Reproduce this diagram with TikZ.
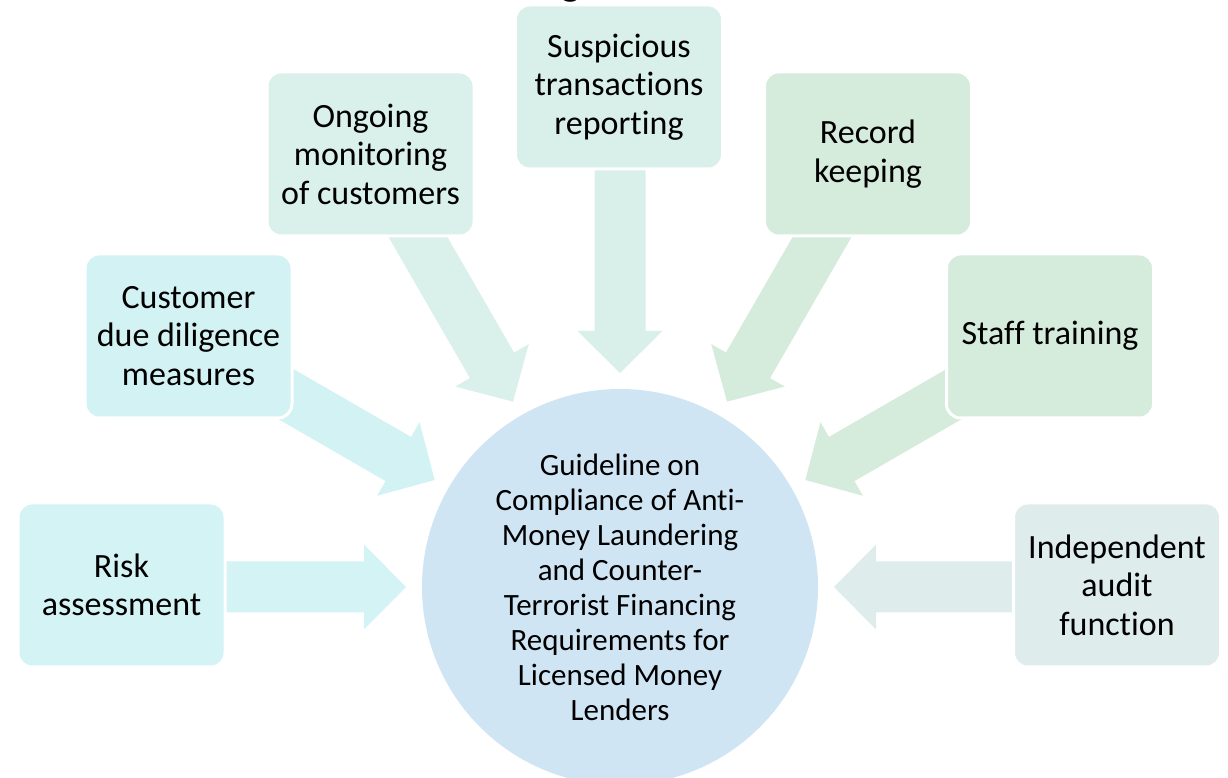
\documentclass[tikz,border=0pt]{standalone}
\usepackage{fontspec}
\setmainfont{Carlito}[RawFeature={-liga;-clig}]
\definecolor{riskc}{RGB}{211,243,245}
\definecolor{cddc}{RGB}{211,242,244}
\definecolor{ongc}{RGB}{218,240,234}
\definecolor{susc}{RGB}{217,239,234}
\definecolor{recc}{RGB}{213,235,220}
\definecolor{stafc}{RGB}{213,235,219}
\definecolor{indc}{RGB}{223,236,236}
\definecolor{hubc}{RGB}{208,229,244}
\begin{document}
\begin{tikzpicture}[x=1pt,y=1pt,
  box/.style={rectangle, rounded corners=14pt, minimum width=207pt,
    minimum height=164pt, draw=white, line width=3pt, align=center,
    inner sep=0pt, font=\fontsize{34}{38.5}\selectfont},
  hub/.style={circle, minimum size=396pt, inner sep=0pt, fill=hubc,
    align=center, font=\fontsize{31}{35}\selectfont},
  blockarrow/.style={fill=#1}]
\useasboundingbox (0,0) rectangle (1228,778);

% centre of the hub
\coordinate (c) at (620,191);

% block arrows pointing at the hub, drawn beneath the boxes
\foreach \ang/\col in {180/riskc,150/cddc,120/ongc,90/susc,60/recc,30/stafc,0/indc}{
  \fill[blockarrow=\col, shift={(c)}, rotate=\ang]
    (214,0) -- (256,42.5) -- (256,25.5) -- (429,25.5) -- (429,-25.5)
    -- (256,-25.5) -- (256,-42.5) -- cycle;
}

% hub
\node[hub] (guide) at (c) {Guideline on\\Compliance of Anti-\\Money Laundering\\and Counter-\\Terrorist Financing\\Requirements for\\Licensed Money\\Lenders};

% surrounding boxes
\node[box, fill=riskc] (risk) at (121.5,193) {Risk\\assessment};
\node[box, fill=cddc] (cdd) at (188.5,442) {Customer\\due diligence\\measures};
\node[box, fill=ongc] (ongoing) at (370.5,624) {Ongoing\\monitoring\\of customers};
\node[box, fill=susc] (str) at (619,691) {Suspicious\\transactions\\reporting};
\node[box, fill=recc] (record) at (868,624) {Record\\keeping};
\node[box, fill=stafc] (staff) at (1050,442) {Staff training};
\node[box, fill=indc] (audit) at (1117,193) {Independent\\audit\\function};

% fragments of surrounding text at the edges
\node[anchor=base east, font=\fontsize{40}{48}\selectfont] (colon) at (6,586) {:};
\node[anchor=base, font=\bfseries\fontsize{40}{48}\selectfont] (titlefrag) at (571,782) {g};
\end{tikzpicture}
\end{document}
